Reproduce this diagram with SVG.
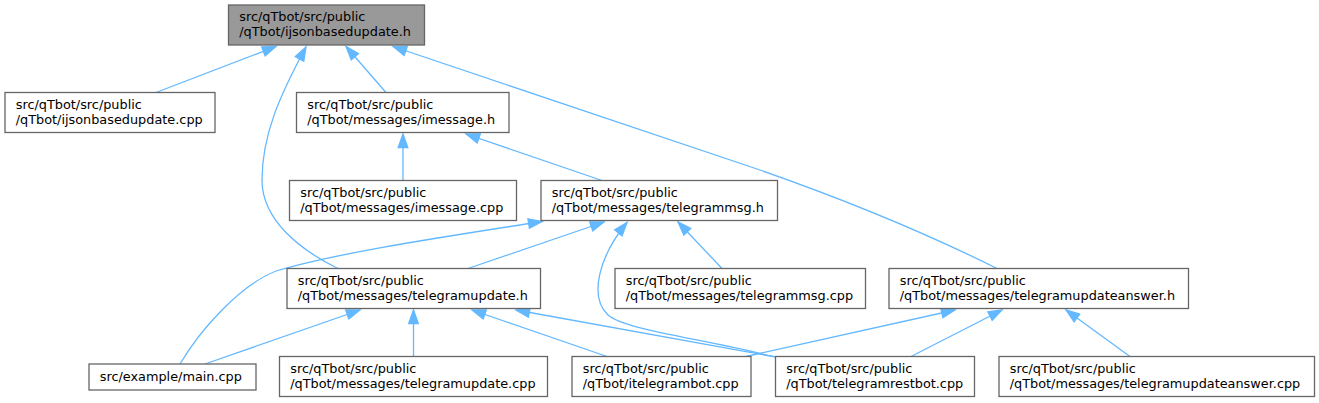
<svg xmlns="http://www.w3.org/2000/svg" width="1319" height="403" viewBox="0 0 1319 403">
<style>
.node rect{fill:#ffffff;stroke:#666666;stroke-width:1.3}
.node.root rect{fill:#999999}
.node text{font-family:"DejaVu Sans","Liberation Sans",sans-serif;font-size:12.85px;fill:#000000}
.edges path{fill:none;stroke:#63b8ff;stroke-width:1.3;marker-end:url(#ah)}
</style>
<defs>
<marker id="ah" markerUnits="userSpaceOnUse" viewBox="0 0 14 10" markerWidth="14" markerHeight="10" refX="13.5" refY="5" orient="auto" overflow="visible">
<path d="M0,0.2 L13.5,5 L0,9.8 z" fill="#63b8ff" stroke="#63b8ff" stroke-width="1.3"/>
</marker>
</defs>
<rect width="1319" height="403" fill="#ffffff"/>
<g id="edges" class="edges">
<path d="M156,92.5 L276,46.5"/>
<path d="M338,268.5 C300,250 262,220 262,180 C262,135 280,95 306,47"/>
<path d="M386,92.5 L346,46.5"/>
<path d="M997,268.5 C940,240 860,205 760,170 C620,122 490,80 393,46.5"/>
<path d="M403,180.5 L403,134"/>
<path d="M602,180.5 L466,134"/>
<path d="M468,268.5 L604,222"/>
<path d="M180,364 C200,330 240,285 276,271 C340,252 450,236 542,221.5"/>
<path d="M775,357 C700,338 625,330 608,315 C588,296 600,255 627,222.5"/>
<path d="M722,268.5 L678,222"/>
<path d="M205,364 L360,310"/>
<path d="M413.5,356.5 L413.5,310"/>
<path d="M607,356.5 L472,310"/>
<path d="M773,356.5 L516,310"/>
<path d="M746,356.5 L955,310"/>
<path d="M911,356.5 L1002,310"/>
<path d="M1130,356.5 L1066,310"/>
</g>
<g id="n_ijsonbasedupdate_h" class="node root">
<rect x="228.5" y="5" width="196" height="40"/>
<text x="239.2" y="21">src/qTbot/src/public</text>
<text x="239.2" y="36">/qTbot/ijsonbasedupdate.h</text>
</g>
<g id="n_ijsonbasedupdate_cpp" class="node">
<rect x="5" y="92.5" width="210" height="40"/>
<text x="15.7" y="108.5">src/qTbot/src/public</text>
<text x="15.7" y="123.5">/qTbot/ijsonbasedupdate.cpp</text>
</g>
<g id="n_imessage_h" class="node">
<rect x="296.5" y="92.5" width="212.5" height="40"/>
<text x="307.2" y="108.5">src/qTbot/src/public</text>
<text x="307.2" y="123.5">/qTbot/messages/imessage.h</text>
</g>
<g id="n_imessage_cpp" class="node">
<rect x="289.5" y="180.5" width="227" height="40"/>
<text x="300.2" y="196.5">src/qTbot/src/public</text>
<text x="300.2" y="211.5">/qTbot/messages/imessage.cpp</text>
</g>
<g id="n_telegrammsg_h" class="node">
<rect x="541" y="180.5" width="236.5" height="40"/>
<text x="551.7" y="196.5">src/qTbot/src/public</text>
<text x="551.7" y="211.5">/qTbot/messages/telegrammsg.h</text>
</g>
<g id="n_telegramupdate_h" class="node">
<rect x="287" y="268.5" width="253.5" height="40"/>
<text x="297.7" y="284.5">src/qTbot/src/public</text>
<text x="297.7" y="299.5">/qTbot/messages/telegramupdate.h</text>
</g>
<g id="n_telegrammsg_cpp" class="node">
<rect x="615" y="268.5" width="250.5" height="40"/>
<text x="625.7" y="284.5">src/qTbot/src/public</text>
<text x="625.7" y="299.5">/qTbot/messages/telegrammsg.cpp</text>
</g>
<g id="n_telegramupdateanswer_h" class="node">
<rect x="889" y="268.5" width="299.5" height="40"/>
<text x="899.7" y="284.5">src/qTbot/src/public</text>
<text x="899.7" y="299.5">/qTbot/messages/telegramupdateanswer.h</text>
</g>
<g id="n_main_cpp" class="node">
<rect x="89" y="364" width="167" height="26"/>
<text x="99.7" y="381">src/example/main.cpp</text>
</g>
<g id="n_telegramupdate_cpp" class="node">
<rect x="279.5" y="356.5" width="268" height="40"/>
<text x="290.2" y="372.5">src/qTbot/src/public</text>
<text x="290.2" y="387.5">/qTbot/messages/telegramupdate.cpp</text>
</g>
<g id="n_itelegrambot_cpp" class="node">
<rect x="572" y="356.5" width="179" height="40"/>
<text x="582.7" y="372.5">src/qTbot/src/public</text>
<text x="582.7" y="387.5">/qTbot/itelegrambot.cpp</text>
</g>
<g id="n_telegramrestbot_cpp" class="node">
<rect x="775.5" y="356.5" width="199" height="40"/>
<text x="786.2" y="372.5">src/qTbot/src/public</text>
<text x="786.2" y="387.5">/qTbot/telegramrestbot.cpp</text>
</g>
<g id="n_telegramupdateanswer_cpp" class="node">
<rect x="999" y="356.5" width="315.5" height="40"/>
<text x="1009.7" y="372.5">src/qTbot/src/public</text>
<text x="1009.7" y="387.5">/qTbot/messages/telegramupdateanswer.cpp</text>
</g>
</svg>
